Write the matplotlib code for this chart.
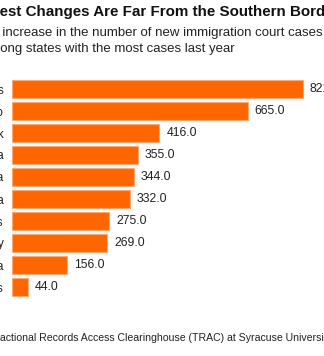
import matplotlib
matplotlib.use("Agg")
import matplotlib.pyplot as plt
from matplotlib.font_manager import FontProperties

states = ["Massachusetts", "Colorado", "New York", "Georgia", "Pennsylvania",
          "Florida", "Illinois", "New Jersey", "California", "Texas"]
pct_increase = [821.0, 665.0, 416.0, 355.0, 344.0, 332.0, 275.0, 269.0, 156.0, 44.0]

title = "Biggest Changes Are Far From the Southern Border"
subtitle_1 = "Percent increase in the number of new immigration court cases,"
subtitle_2 = "among states with the most cases last year"
source = "Source: Transactional Records Access Clearinghouse (TRAC) at Syracuse University"

plt.rcParams["font.family"] = ["Liberation Sans", "DejaVu Sans"]

W, H = 324, 356
fig = plt.figure(figsize=(W / 100, H / 100), dpi=100)
ax = fig.add_axes([12 / W, (H - 298) / H, 312 / W, 220 / H])

bar_color = "#ff6600"
ypos = list(range(len(states)))
ax.barh(ypos, pct_increase, height=0.82, color=bar_color,
        edgecolor="#ffa874", linewidth=0.8)

for y, v in zip(ypos, pct_increase):
    ax.annotate(f"{v:.1f}", (v, y), xytext=(5, 0), textcoords="offset points",
                va="center", ha="left", fontsize=8.8, color="#222222")

ax.set_xlim(0, 312 / 0.3544)
ax.set_ylim(len(states) - 0.5, -0.5)
ax.set_yticks(ypos)
ax.set_yticklabels(states, fontsize=8.8, color="#222222")
ax.tick_params(axis="y", length=0, pad=6)
ax.set_xticks([])
for s in ax.spines.values():
    s.set_visible(False)

# header and footer are cropped at the left like the reference:
# shift each line so the given prefix ends at the given pixel
renderer = fig.canvas.get_renderer()


def cropped_text(text, prefix, end_px, y_px, **kw):
    fp = FontProperties(family=plt.rcParams["font.family"],
                        size=kw.get("fontsize"), weight=kw.get("fontweight", "normal"))
    w, _, _ = renderer.get_text_width_height_descent(prefix, fp, ismath=False)
    fig.text((end_px - w) / W, 1 - y_px / H, text, va="center", ha="left", **kw)


cropped_text(title, "Bigg", 0, 12, fontsize=10.9, fontweight="bold", color="#111111")
cropped_text(subtitle_1, "Percent", -1, 33, fontsize=9.5, color="#222222")
cropped_text(subtitle_2, "am", 0, 49, fontsize=9.5, color="#222222")
cropped_text(source, "Source: Trans", 0, 338, fontsize=7.6, color="#222222")

fig.savefig("out.png", dpi=100)
